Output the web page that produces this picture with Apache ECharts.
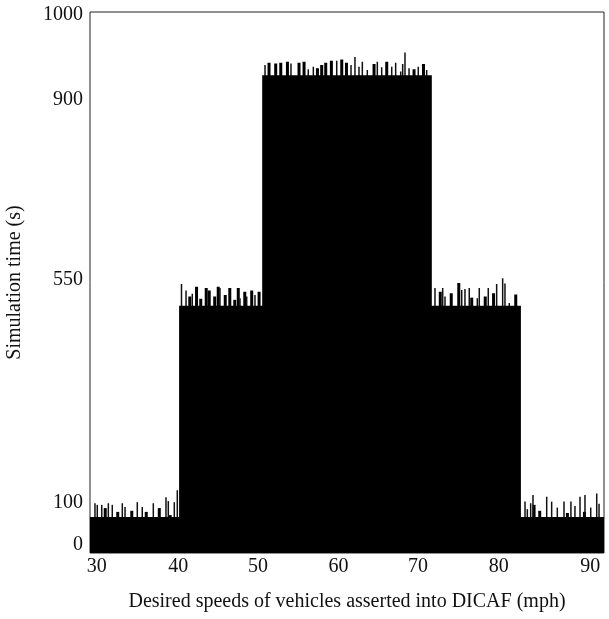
<!DOCTYPE html>
<html>
<head>
<meta charset="utf-8">
<script src="https://cdn.jsdelivr.net/npm/echarts@6/dist/echarts.min.js"></script>
<style>
  html, body { margin: 0; padding: 0; background: #fff; }
  #chart { width: 609px; height: 619px; }
</style>
</head>
<body>
<div id="chart"></div>
<script>
// tick labels, printed where the figure prints them (axis units)
var X_LABELS = ['30', '40', '50', '60', '70', '80', '90'];
var X_LABEL_AT = [30.8, 40.3, 49.6, 59.0, 68.3, 77.7, 88.4];
var Y_LABELS = ['0', '100', '550', '900', '1000'];
var Y_LABEL_AT = [14.8, 92.4, 504.6, 838, 994.5];

// flat level of each speed band [speed, time]
var LEVELS = [[30, 66.5], [40.4, 457], [50.1, 883], [69.9, 457], [80.3, 66.5], [90, 66.5]];

// spikes on top of the levels [speed, time]
var THIN_SPIKES = [
  [30.58, 92], [30.85, 89], [31.37, 89], [32.14, 92], [32.60, 89], [33.77, 92], [34.09, 85],
  [35.52, 94], [36.10, 85], [37.39, 92], [38.87, 103], [39.14, 96], [39.84, 94], [40.19, 116],
  [40.68, 497], [41.21, 485], [41.94, 479], [45.17, 490], [47.51, 471], [48.29, 474], [49.26, 477],
  [50.43, 902], [53.46, 905], [55.48, 894], [56.07, 899], [58.80, 910], [60.47, 902], [60.93, 917],
  [61.40, 899], [61.79, 908], [62.37, 893], [63.54, 908], [64.05, 898], [65.22, 899], [65.68, 906],
  [66.27, 890], [66.50, 904], [66.77, 925], [67.24, 896], [68.32, 899], [69.30, 893],
  [70.27, 490], [71.17, 490], [71.44, 474], [73.39, 486], [73.77, 488], [74.27, 490], [75.21, 471],
  [75.44, 490], [76.49, 490], [77.47, 497], [78.17, 508], [78.44, 498], [78.94, 462],
  [80.78, 95], [81.05, 81], [81.44, 92], [81.71, 107], [83.31, 104], [83.89, 95], [84.55, 84],
  [85.33, 95], [86.14, 95], [86.61, 87], [87.20, 104], [87.78, 107], [88.45, 84], [89.15, 110],
  [89.42, 91]
];
var WIDE_SPIKES = [
  [31.69, 83], [33.15, 76], [34.79, 78], [36.48, 76], [38.00, 83], [39.28, 70],
  [41.56, 474], [42.35, 492], [42.84, 470], [43.48, 490], [43.83, 485], [44.47, 474], [44.88, 492],
  [45.70, 477], [46.23, 490], [46.81, 468], [47.22, 490], [47.98, 483], [48.79, 485], [49.65, 483],
  [50.81, 906], [51.59, 905], [52.18, 906], [52.96, 908], [54.31, 906], [54.90, 908], [56.46, 896],
  [56.96, 902], [57.43, 906], [58.09, 910], [59.30, 912], [59.85, 906], [63.07, 904], [64.55, 908],
  [67.74, 894], [68.84, 904],
  [70.80, 483], [72.08, 480], [72.96, 499], [74.47, 472], [76.05, 474], [77.02, 480], [79.61, 478],
  [81.75, 89], [82.41, 78], [85.64, 74], [87.63, 76]
];

var FONT = 'Liberation Serif';

function pickLabel(value, at, labels){
  var best = 0;
  for( var i = 0 ; i < at.length ; i++ ){
    if( Math.abs(at[i] - value) < Math.abs(at[best] - value) ){
      best = i;
    }
  }
  return labels[best];
}

var chart = echarts.init(document.getElementById('chart'), null, { renderer: 'canvas' });

var option = {
  animation: false,
  backgroundColor: '#fff',
  grid: {
    left: 90, right: 5, top: 12, bottom: 66,
    outerBoundsMode: 'none', containLabel: false,
    show: true, borderColor: '#222', borderWidth: 1
  },
  xAxis: {
    type: 'value', min: 30, max: 90,
    name: 'Desired speeds of vehicles asserted into DICAF (mph)',
    nameLocation: 'middle', nameGap: 39,
    nameTextStyle: { fontFamily: FONT, fontSize: 20, color: '#111' },
    axisLine: { show: false },
    axisTick: { show: false },
    splitLine: { show: false },
    axisLabel: {
      customValues: X_LABEL_AT,
      margin: 4,
      fontFamily: FONT, fontSize: 20, color: '#111',
      formatter: function(v){ return pickLabel(v, X_LABEL_AT, X_LABELS); }
    }
  },
  yAxis: {
    type: 'value', min: 0, max: 1000,
    name: 'Simulation time (s)',
    nameLocation: 'middle', nameGap: 65, nameRotate: 90,
    nameTextStyle: { fontFamily: FONT, fontSize: 20, color: '#111' },
    axisLine: { show: false },
    axisTick: { show: false },
    splitLine: { show: false },
    axisLabel: {
      customValues: Y_LABEL_AT,
      margin: 7,
      fontFamily: FONT, fontSize: 20, color: '#111',
      formatter: function(v){ return pickLabel(v, Y_LABEL_AT, Y_LABELS); }
    }
  },
  series: [
    {
      type: 'line', step: 'end', data: LEVELS,
      symbol: 'none', silent: true,
      lineStyle: { width: 0, color: '#000' },
      areaStyle: { color: '#000', opacity: 1 }
    },
    {
      type: 'bar', data: WIDE_SPIKES, barWidth: 3, barGap: '-100%',
      itemStyle: { color: '#000' }
    },
    {
      type: 'bar', data: THIN_SPIKES, barWidth: 1.5, barGap: '-100%',
      itemStyle: { color: '#111' }
    }
  ]
};

chart.setOption(option);
</script>
</body>
</html>
